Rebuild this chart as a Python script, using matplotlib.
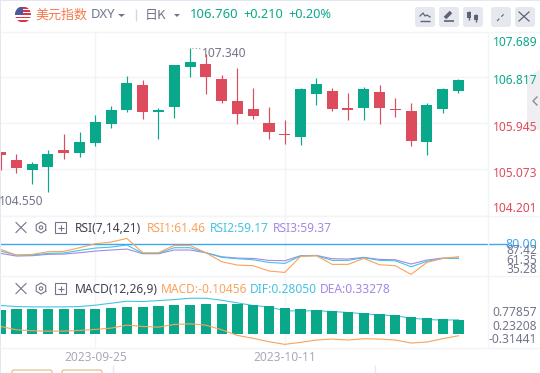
import matplotlib
matplotlib.use("Agg")
import matplotlib.pyplot as plt
from matplotlib.patches import Circle, FancyBboxPatch, Rectangle, Polygon
import numpy as np

plt.rcParams['font.family'] = ['Noto Sans', 'Noto Sans CJK SC', 'DejaVu Sans']

price_ticks = [107.689, 106.817, 105.945, 105.073, 104.201]
date_labels = ['2023-09-25', '2023-10-11']
date_index = [6, 18]

high = [105.40,105.36,105.21,105.44,105.74,105.78,106.10,106.27,106.83,106.76,106.23,107.04,107.36,107.25,106.85,106.98,106.61,106.25,106.00,106.61,106.80,106.61,106.51,106.63,106.66,106.42,106.32,106.32,106.61,106.78]
low = [105.06,105.00,104.80,104.65,105.27,105.31,105.51,105.85,106.15,106.02,105.65,106.04,106.82,106.49,106.32,105.93,106.02,105.65,105.55,105.53,106.29,106.17,106.00,106.00,105.93,106.06,105.51,105.34,106.14,106.51]
open_ = [105.40,105.25,105.06,105.12,105.44,105.38,105.57,105.93,106.19,106.66,106.15,106.25,107.00,107.06,106.78,106.36,106.21,105.95,105.74,105.68,106.49,106.55,106.23,106.23,106.53,106.21,106.17,105.59,106.21,106.55]
close = [105.35,105.10,105.17,105.36,105.38,105.59,105.97,106.19,106.70,106.15,106.19,107.04,107.10,106.82,106.36,106.12,106.08,105.78,105.72,106.59,106.68,106.21,106.19,106.59,106.23,106.19,105.61,106.29,106.59,106.76]

rsi1 = [71.9,63.8,64.8,68.6,69.0,74.3,80.0,82.4,87.6,67.1,67.1,77.6,77.6,67.1,54.3,49.5,48.6,41.0,39.0,61.9,62.9,50.5,50.5,59.0,50.0,48.6,36.2,53.3,59.0,61.46]
rsi2 = [69.5,63.8,63.8,66.2,66.7,70.5,73.8,75.2,78.1,66.2,66.2,74.3,74.3,67.1,60.5,58.6,57.1,53.3,51.9,62.4,62.9,56.2,56.2,60.0,56.2,55.7,47.1,54.8,59.0,59.17]
rsi3 = [66.2,62.4,62.9,64.8,65.2,67.1,69.5,71.0,72.4,65.7,65.7,71.0,71.0,67.1,61.4,59.5,59.0,56.2,55.7,62.9,63.3,58.6,58.1,60.5,57.6,57.1,51.0,56.7,59.5,59.37]
rsi_level = 80.0
rsi_tick_labels = ['87.42', '61.35', '35.28']

macd_bars = [.521,.545,.545,.545,.545,.545,.545,.569,.593,.593,.617,.641,.641,.665,.665,.665,.641,.617,.569,.545,.521,.497,.473,.449,.425,.401,.353,.329,.305,.281]
macd_base = -0.056
dif = [.625,.601,.593,.593,.593,.601,.633,.681,.729,.721,.745,.769,.801,.801,.753,.689,.625,.593,.497,.497,.497,.481,.457,.425,.401,.377,.321,.289,.273,.2805]
macd = [.120,.040,.016,.008,.008,.024,.048,.080,.152,.120,.104,.168,.184,.152,.040,-.096,-.168,-.248,-.312,-.264,-.208,-.184,-.208,-.176,-.184,-.208,-.280,-.256,-.176,-.10456]
macd_tick_labels = ['0.77857', '0.23208', '-0.31441']

W, H = 540, 373
GREEN, RED = '#0aa88b', '#dc4c5c'
ORANGE, CYAN, PURPLE = '#f9a35c', '#45c3e3', '#a688e2'
GRID = '#f3f4f8'
GRAY = '#72758a'
XLEFT, XRIGHT = -0.038, 30.87

fig = plt.figure(figsize=(W/100, H/100), dpi=100, facecolor='white')

def panel(x0, y0, x1, y1):
    a = fig.add_axes([x0/W, 1-y1/H, (x1-x0)/W, (y1-y0)/H])
    a.set_xlim(XLEFT, XRIGHT)
    a.tick_params(left=False, bottom=False, labelleft=False, labelbottom=False)
    for s in a.spines.values():
        s.set_visible(False)
    a.set_xticks(date_index)
    a.grid(True, color=GRID, lw=1)
    a.set_axisbelow(True)
    return a

xs = np.arange(len(close))

# main candles
ax = panel(0, 32, 488, 216)
ax.set_ylim(104.192, 107.664)
ax.set_yticks(price_ticks[1:])
colors = [GREEN if c >= o else RED for o, c in zip(open_, close)]
ax.vlines(xs, low, high, colors=colors, lw=0.85)
o, c = np.array(open_), np.array(close)
ax.bar(xs, np.abs(c-o), bottom=np.minimum(o, c), width=0.70, color=colors, lw=0)

# RSI
ax2 = panel(0, 216, 488, 276)
ax2.set_ylim(33.9, 119.6)
ax2.set_yticks([])
ax2.axhline(rsi_level, xmax=508/488, color='#3ea6f0', lw=1, clip_on=False)
ax2.plot(xs, rsi3, color=PURPLE, lw=0.8)
ax2.plot(xs, rsi2, color=CYAN, lw=0.8)
ax2.plot(xs, rsi1, color=ORANGE, lw=0.8)

# MACD
ax3 = panel(0, 276, 488, 347)
ax3.set_ylim(-0.376, 1.338)
ax3.set_yticks([])
ax3.plot(xs, dif, color=CYAN, lw=0.8, zorder=2)
ax3.bar(xs, np.array(macd_bars)-macd_base, bottom=macd_base, width=0.65, color=GREEN, lw=0, zorder=3)
ax3.plot(xs, macd, color=ORANGE, lw=0.8, zorder=4)

# overlay in pixel coordinates for page furniture
ov = fig.add_axes([0, 0, 1, 1], zorder=10)
ov.set_xlim(0, W); ov.set_ylim(H, 0); ov.axis('off'); ov.patch.set_visible(False)

def T(x, y, s, color=GRAY, size=8.64, ha='left', **kw):
    ov.text(x, y + 1, s, color=color, fontsize=size, ha=ha, va='center', **kw)

def hl(y, x0=0, x1=W, color=GRID, lw=1):
    ov.plot([x0, x1], [y, y], color=color, lw=lw, solid_capstyle='butt')

def vl(x, y0, y1, color=GRID, lw=1):
    ov.plot([x, x], [y0, y1], color=color, lw=lw, solid_capstyle='butt')

# page edges and separators
ov.add_patch(Rectangle((0, 0), W, 1.2, color='#e4e7f1', lw=0))
ov.add_patch(Rectangle((0, 0), 1.2, H, color='#e4e7f1', lw=0))
hl(31.5); hl(216); hl(276); hl(347.5)
vl(487.5, 32, 347)
vl(113, 365, 373, color='#e8e9ee'); vl(375, 365, 373, color='#e8e9ee')

# header
disc = Circle((23, 14.5), 8, fc='white', ec='none')
ov.add_patch(disc)
for k in range(5):
    r = Rectangle((15, 7 + k*3.2), 16, 1.7, fc='#d8344a', lw=0)
    ov.add_patch(r); r.set_clip_path(disc)
q = Rectangle((15, 6.5), 8, 8, fc='#4a5a9c', lw=0)
ov.add_patch(q); q.set_clip_path(disc)
T(35, 14, '美元指数', color='#f9784f', size=9.4, family=['Noto Sans CJK SC', 'DejaVu Sans'])
T(91, 14, 'DXY', size=9.4)
ov.add_patch(Polygon([[118, 14], [125, 14], [121.5, 17]], fc=GRAY, lw=0))
vl(135.5, 9, 21, color='#d5d7e0')
T(145, 14, '日K', size=9.4, family=['Noto Sans CJK SC', 'DejaVu Sans'])
ov.add_patch(Polygon([[174, 14], [180, 14], [177, 17]], fc=GRAY, lw=0))
T(190, 14, '106.760', color=GREEN, size=9.4, fontweight='bold')
T(243, 14, '+0.210', color=GREEN, size=9.2, fontweight='bold')
T(288, 14, '+0.20%', color=GREEN, size=9.2, fontweight='bold')

# toolbar buttons
for bx in (415, 439, 463, 491, 515):
    ov.add_patch(FancyBboxPatch((bx+2, 9), 16, 16, boxstyle='round,pad=2,rounding_size=3',
                                fc='#e6e8f0', ec='none'))
ov.plot([420, 423, 425, 427, 430], [16, 13, 16, 15, 17], color='#5f6274', lw=0.9)
hl(20.5, 420, 430, color='#5f6274')
ov.plot([445, 451], [18, 12], color='#5f6274', lw=2.6, solid_capstyle='butt')
hl(20.5, 444, 454, color='#5f6274', lw=1.2)
for cx, y0, y1 in ((469, 12, 18), (476, 15, 20)):
    vl(cx, y0-1.5, y1+1.5, color='#5f6274')
    ov.add_patch(Rectangle((cx-2, y0), 4, y1-y0, fc='#5f6274', lw=0))
ov.plot([497, 505], [21, 13], color='#5f6274', lw=0.8, ls=(0, (3, 2.5)))
ov.plot([519, 529], [12, 21], color='#5f6274', lw=0.9)
ov.plot([519, 529], [21, 12], color='#5f6274', lw=0.9)

# side tab
ov.add_patch(Polygon([[527, 76], [540, 70], [540, 130], [527, 130]], fc='#efeff1', lw=0))
ov.plot([537, 533, 537], [97, 101, 105], color='#8a8c99', lw=1)

# price labels
for s, y, col in zip(price_ticks, (41, 79, 126.5, 172.5, 207), (GREEN, GREEN, RED, RED, RED)):
    T(493, y, f'{s:.3f}', color=col)
T(202, 52.5, '107.340')
T(-1, 200.5, '104.550')
ov.plot([192, 200], [48, 48], color='#9a9cab', lw=0.8, ls=(0, (1, 2)))

# indicator headers
def icons(y):
    ov.plot([16, 26], [y-5, y+5], color='#72758a', lw=0.8)
    ov.plot([16, 26], [y+5, y-5], color='#72758a', lw=0.8)
    a = np.linspace(np.pi/6, 2*np.pi+np.pi/6, 7)
    ov.plot(41+5.5*np.cos(a), y+5.5*np.sin(a), color='#72758a', lw=0.8)
    ov.add_patch(Circle((41, y), 1.7, fc='none', ec='#72758a', lw=0.8))
    ov.add_patch(Rectangle((55, y-5.5), 11, 11, fc='none', ec='#72758a', lw=0.8))
    hl(y, 57.5, 63.5, color='#72758a', lw=0.8)
    vl(60.5, y-3, y+3, color='#72758a', lw=0.8)

icons(227.5)
T(75, 227.5, 'RSI(7,14,21)', color='#3e4152')
T(146.5, 227.5, 'RSI1:61.46', color=ORANGE)
T(210, 227.5, 'RSI2:59.17', color=CYAN)
T(273, 227.5, 'RSI3:59.37', color=PURPLE)
icons(288.5)
T(75, 288.5, 'MACD(12,26,9)', color='#3e4152')
T(161, 288.5, 'MACD:-0.10456', color=ORANGE)
T(250, 288.5, 'DIF:0.28050', color=CYAN)
T(320, 288.5, 'DEA:0.33278', color=PURPLE)

# right labels of lower panels
T(537, 243.7, f'{rsi_level:.2f}', color='#3ea6f0', ha='right', size=9)
for s, y in zip(rsi_tick_labels, (250, 259.5, 268.7)):
    T(537, y, s, ha='right')
for s, y in zip(macd_tick_labels, (311, 325, 338.7)):
    T(537, y, s, ha='right')

# dates
for s, i in zip(date_labels, date_index):
    T(0.6+15.79*i, 356.5, s, color='#a9abb9', ha='center')

# cut-off buttons along the bottom
for bx in (12, 62):
    ov.add_patch(FancyBboxPatch((bx, 370), 40, 8, boxstyle='round,pad=0,rounding_size=2',
                                fc='white', ec='#d9b98a', lw=0.8))

fig.savefig('out.png', dpi=100)
